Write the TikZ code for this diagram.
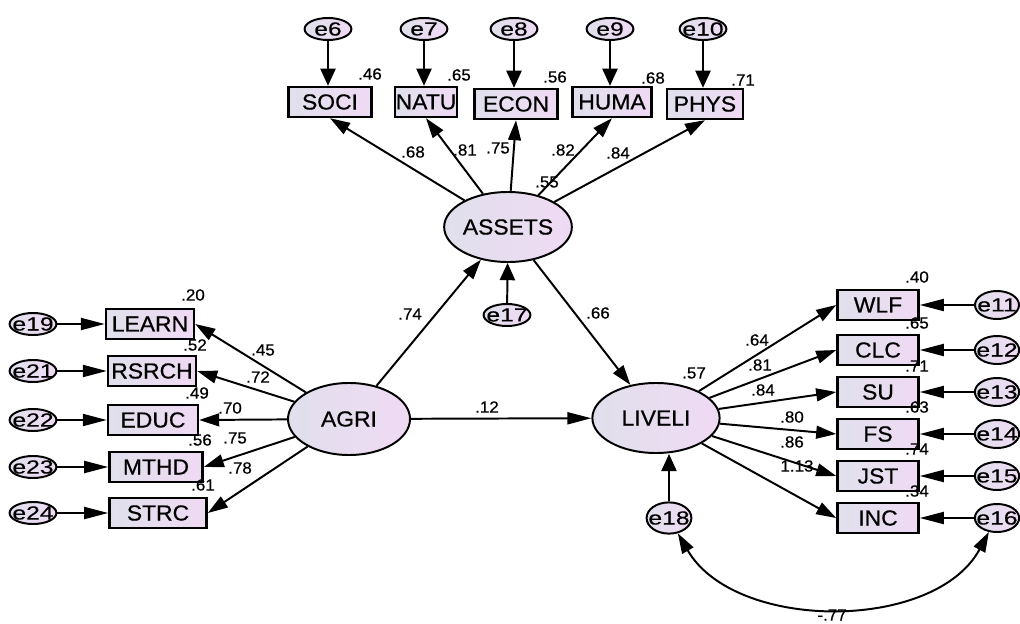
\documentclass[tikz,border=0pt]{standalone}
\usepackage{fontspec}
\setmainfont{Liberation Sans}[FakeStretch=1.05, FakeBold=0.6]
\newfontfamily\errfont{Liberation Sans}[FakeStretch=1.3, FakeBold=0.4]
\usetikzlibrary{arrows.meta, shapes.geometric}
\definecolor{shadeL}{RGB}{224,224,236}
\definecolor{shadeR}{RGB}{240,218,244}
\tikzset{
    obs/.style={draw, line width=1.7pt, rectangle, left color=shadeL, right color=shadeR,
        minimum height=0.75cm, inner sep=0pt, font=\fontsize{15.5}{17}\selectfont},
    lat/.style={draw, line width=1.4pt, ellipse, left color=shadeL, right color=shadeR,
        inner sep=0pt, font=\fontsize{15.5}{17}\selectfont},
    err/.style={lat, minimum width=1.17cm, minimum height=0.55cm, inner xsep=-3.5pt, inner ysep=-1pt,
        font=\errfont\fontsize{13.5}{15}\selectfont},
    arr/.style={line width=1.4pt, -{Triangle[length=0.5cm,width=0.32cm]}},
    harr/.style={line width=1.4pt, -{Triangle[length=0.6cm,width=0.3cm]}},
    varr/.style={line width=1.4pt, -{Triangle[length=0.43cm,width=0.38cm]}},
    coef/.style={inner sep=0pt, font=\fontsize{11.5}{13}\selectfont}
}
\begin{document}
\begin{tikzpicture}[x=0.025cm, y=-0.025cm]
                \useasboundingbox (0,0) rectangle (1020,624);
                \node[lat, minimum width=3cm, minimum height=1.75cm] (ASSETS) at (508,227) {ASSETS};
                \node[lat, minimum width=3.05cm, minimum height=1.8cm] (AGRI) at (349,419) {AGRI};
                \node[lat, minimum width=3.18cm, minimum height=1.75cm] (LIVELI) at (656,418) {LIVELI};
                \node[err] (e17) at (507,315) {e17};
                \node[err, minimum width=1.12cm, minimum height=0.78cm] (e18) at (669,518) {e18};
                \foreach \e/\n/\x/\y/\w in {6/SOCI/330/102/2.08, 7/NATU/426/102/1.55, 8/ECON/516/104/2.08,
                        9/HUMA/612/102/1.98, 10/PHYS/705/104/1.9}{
                    \node[obs, minimum width=\w cm] (\n) at (\x,\y) {\n};
                    \node[err] (e\e) at (\x-2,29) {e\e};
                    \draw[varr] (e\e.south) -- (e\e.south |- \n.north);
                    \draw[arr] (ASSETS) -- (\n.south);
                }
                \foreach \e/\n/\x/\y/\w in {19/LEARN/150/324/2.2, 21/RSRCH/152/371/2.2, 22/EDUC/153/420/2.25,
                        23/MTHD/156/467/2.33, 24/STRC/158/513/2.43}{
                    \node[obs, minimum width=\w cm] (\n) at (\x,\y) {\n};
                    \node[err] (e\e) at (33,\y) {e\e};
                    \draw[harr] (e\e) -- (\n);
                    \draw[arr] (AGRI) -- (\n.east);
                }
                \foreach \e/\n/\y in {11/WLF/305, 12/CLC/350, 13/SU/392, 14/FS/434, 15/JST/476, 16/INC/518}{
                    \node[obs, minimum width=2.03cm] (\n) at (878,\y) {\n};
                    \node[err, minimum width=1.1cm, minimum height=0.7cm] (e\e) at (997,\y) {e\e};
                    \draw[harr] (e\e) -- (\n);
                    \draw[arr] (LIVELI) -- (\n.west);
                }
                \draw[arr] (AGRI) -- (ASSETS);
                \draw[arr] (ASSETS) -- (LIVELI);
                \draw[harr] (AGRI) -- (LIVELI);
                \draw[varr] (e17) -- (ASSETS);
                \draw[varr] (e18.north) -- (e18.north |- LIVELI.south);
                \draw[line width=1.4pt, {Triangle[length=0.5cm,width=0.32cm]}-{Triangle[length=0.5cm,width=0.32cm]}]
                    (e18.-60) .. controls (735,632) and (935,632) .. (e16.-120);
                \foreach \t/\x/\y [count=\i] in {.46/370/74, .65/459/75, .56/555/77, .68/653/78, .71/743/80,
                        .68/413/152, .81/465/150, .75/498/148, .82/563/150, .84/618/153, .55/547/182,
                        .74/410/314, .66/598/313, .12/487/407,
                        .20/193/295, .45/263/350, .52/195/345, .72/258/377, .49/197/393, .70/230/408,
                        .56/200/440, .75/235/438, .78/240/468, .61/203/485,
                        .40/917/277, .65/917/323, .71/917/366, .63/917/407, .74/917/449, .34/917/491,
                        .57/694/373, .64/757/340, .81/760/365, .84/763/390, .80/792/417, .86/792/442,
                        1.13/797/466, -.77/832/615}{
                    \node[coef] (c\i) at (\x,\y) {\t};
                }
            \end{tikzpicture}
\end{document}
